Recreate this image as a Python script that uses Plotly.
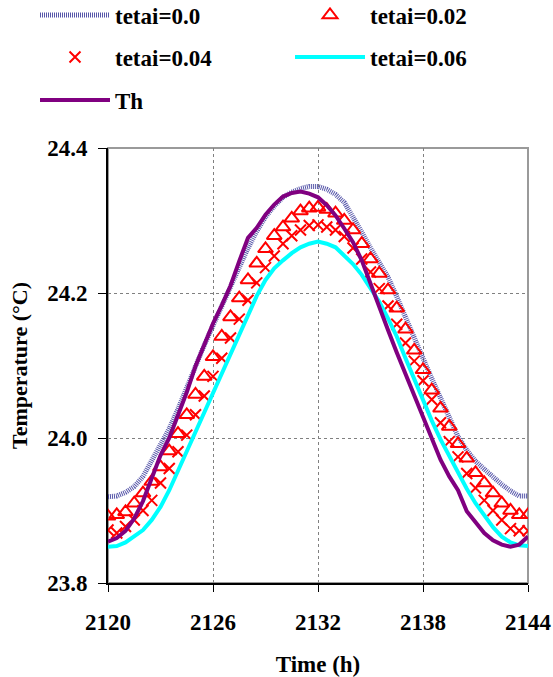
import plotly.graph_objects as go

# ---- data ----
hours = [2120 + 0.5 * i for i in range(49)]

tetai_00 = [23.919, 23.920, 23.925, 23.933, 23.947, 23.968, 23.990, 24.013, 24.040, 24.070,
            24.100, 24.128, 24.155, 24.182, 24.208, 24.236, 24.262, 24.285, 24.305, 24.320,
            24.332, 24.339, 24.344, 24.347, 24.347, 24.343, 24.336, 24.325, 24.306, 24.284,
            24.262, 24.242, 24.222, 24.195, 24.168, 24.139, 24.110, 24.082, 24.054, 24.028,
            24.002, 23.983, 23.968, 23.957, 23.946, 23.936, 23.927, 23.920, 23.920]

tetai_02 = [23.892, 23.894, 23.898, 23.910, 23.924, 23.940, 23.960, 23.982, 24.006, 24.032,
            24.060, 24.085, 24.112, 24.140, 24.167, 24.193, 24.218, 24.241, 24.261, 24.279,
            24.291, 24.303, 24.313, 24.317, 24.318, 24.315, 24.310, 24.300, 24.287, 24.268,
            24.247, 24.227, 24.204, 24.179, 24.150, 24.121, 24.094, 24.066, 24.041, 24.016,
            23.992, 23.972, 23.952, 23.938, 23.924, 23.910, 23.900, 23.894, 23.894]

tetai_04 = [23.873, 23.869, 23.878, 23.887, 23.900, 23.914, 23.938, 23.958, 23.981, 24.004,
            24.032, 24.058, 24.085, 24.110, 24.138, 24.164, 24.190, 24.214, 24.235, 24.251,
            24.268, 24.279, 24.287, 24.293, 24.294, 24.291, 24.287, 24.278, 24.262, 24.247,
            24.229, 24.206, 24.182, 24.157, 24.131, 24.106, 24.079, 24.053, 24.021, 23.995,
            23.974, 23.951, 23.931, 23.914, 23.900, 23.887, 23.875, 23.872, 23.872]

tetai_06 = [23.850, 23.851, 23.856, 23.864, 23.873, 23.887, 23.905, 23.928, 23.955, 23.980,
            24.007, 24.037, 24.064, 24.090, 24.117, 24.143, 24.170, 24.196, 24.218, 24.234,
            24.245, 24.255, 24.263, 24.268, 24.271, 24.268, 24.263, 24.252, 24.240, 24.225,
            24.207, 24.188, 24.165, 24.140, 24.110, 24.081, 24.052, 24.024, 23.998, 23.975,
            23.953, 23.930, 23.910, 23.893, 23.877, 23.864, 23.856, 23.852, 23.851]

th = [23.857, 23.862, 23.872, 23.889, 23.913, 23.943, 23.976, 24.000, 24.030, 24.063,
      24.099, 24.130, 24.158, 24.183, 24.210, 24.244, 24.276, 24.290, 24.308, 24.322,
      24.333, 24.338, 24.340, 24.337, 24.332, 24.321, 24.307, 24.289, 24.270, 24.245,
      24.212, 24.180, 24.149, 24.118, 24.088, 24.058, 24.028, 23.998, 23.970, 23.947,
      23.928, 23.899, 23.884, 23.869, 23.859, 23.853, 23.850, 23.853, 23.864]

x_ticks = [2120, 2126, 2132, 2138, 2144]
y_ticks = [23.8, 24.0, 24.2, 24.4]

FONT = "Liberation Serif"

fig = go.Figure()

fig.add_trace(go.Scatter(x=hours, y=tetai_00, mode="lines", name="tetai=0.0",
                         line=dict(color="rgba(30,30,140,0.75)", width=5, dash="1px,1px"),
                         legend="legend"))
fig.add_trace(go.Scatter(x=hours, y=tetai_02, mode="markers", name="tetai=0.02",
                         marker=dict(symbol="triangle-up-open", size=13, color="#FF0000",
                                     line=dict(width=2, color="#FF0000")),
                         legend="legend2"))
fig.add_trace(go.Scatter(x=hours, y=tetai_04, mode="markers", name="tetai=0.04",
                         marker=dict(symbol="x-thin-open", size=11, color="#FF0000",
                                     line=dict(width=2, color="#FF0000")),
                         legend="legend3"))
fig.add_trace(go.Scatter(x=hours, y=tetai_06, mode="lines", name="tetai=0.06",
                         line=dict(color="#00FFFF", width=4), legend="legend4"))
fig.add_trace(go.Scatter(x=hours, y=th, mode="lines", name="Th",
                         line=dict(color="#800080", width=4), legend="legend5"))

leg_common = dict(xref="container", yref="container", xanchor="left", yanchor="middle",
                  orientation="h", bgcolor="rgba(0,0,0,0)", itemwidth=70,
                  font=dict(family=FONT, size=23, color="black", weight="bold"))

fig.update_layout(
    width=553, height=677,
    margin=dict(l=108, r=25, t=148, b=94),
    paper_bgcolor="white", plot_bgcolor="white",
    showlegend=True,
    legend=dict(x=35 / 553, y=1 - 15 / 677, **leg_common),
    legend2=dict(x=290 / 553, y=1 - 15 / 677, **leg_common),
    legend3=dict(x=35 / 553, y=1 - 57 / 677, **leg_common),
    legend4=dict(x=290 / 553, y=1 - 57 / 677, **leg_common),
    legend5=dict(x=35 / 553, y=1 - 100 / 677, **leg_common),
    xaxis=dict(range=[2120, 2144], tickvals=x_ticks, ticktext=[str(v) for v in x_ticks],
               showgrid=True, gridcolor="#808080", griddash="dot", gridwidth=1,
               showline=True, linecolor="black", linewidth=2, mirror=False,
               ticks="outside", ticklen=7, tickcolor="black", tickwidth=1,
               ticklabelstandoff=10, zeroline=False, tickangle=0, automargin=False,
               tickfont=dict(family=FONT, size=23, color="black", weight="bold"),
               title=dict(text="Time (h)", standoff=22,
                          font=dict(family=FONT, size=23, color="black", weight="bold"))),
    yaxis=dict(range=[23.8, 24.4], tickvals=y_ticks, tickformat=".1f",
               showgrid=True, gridcolor="#808080", griddash="dot", gridwidth=1,
               showline=True, linecolor="black", linewidth=2, mirror=False,
               ticks="outside", ticklen=8, tickcolor="black", tickwidth=1,
               ticklabelstandoff=6, zeroline=False, automargin=False,
               tickfont=dict(family=FONT, size=23, color="black", weight="bold"),
               title=dict(text="Temperature (°C)", standoff=13,
                          font=dict(family=FONT, size=22, color="black", weight="bold"))),
    shapes=[dict(type="rect", xref="paper", yref="paper", x0=0, x1=1, y0=0, y1=1,
                 line=dict(color="#9a9a9a", width=2), layer="below")],
)

fig.write_html("out.html")
